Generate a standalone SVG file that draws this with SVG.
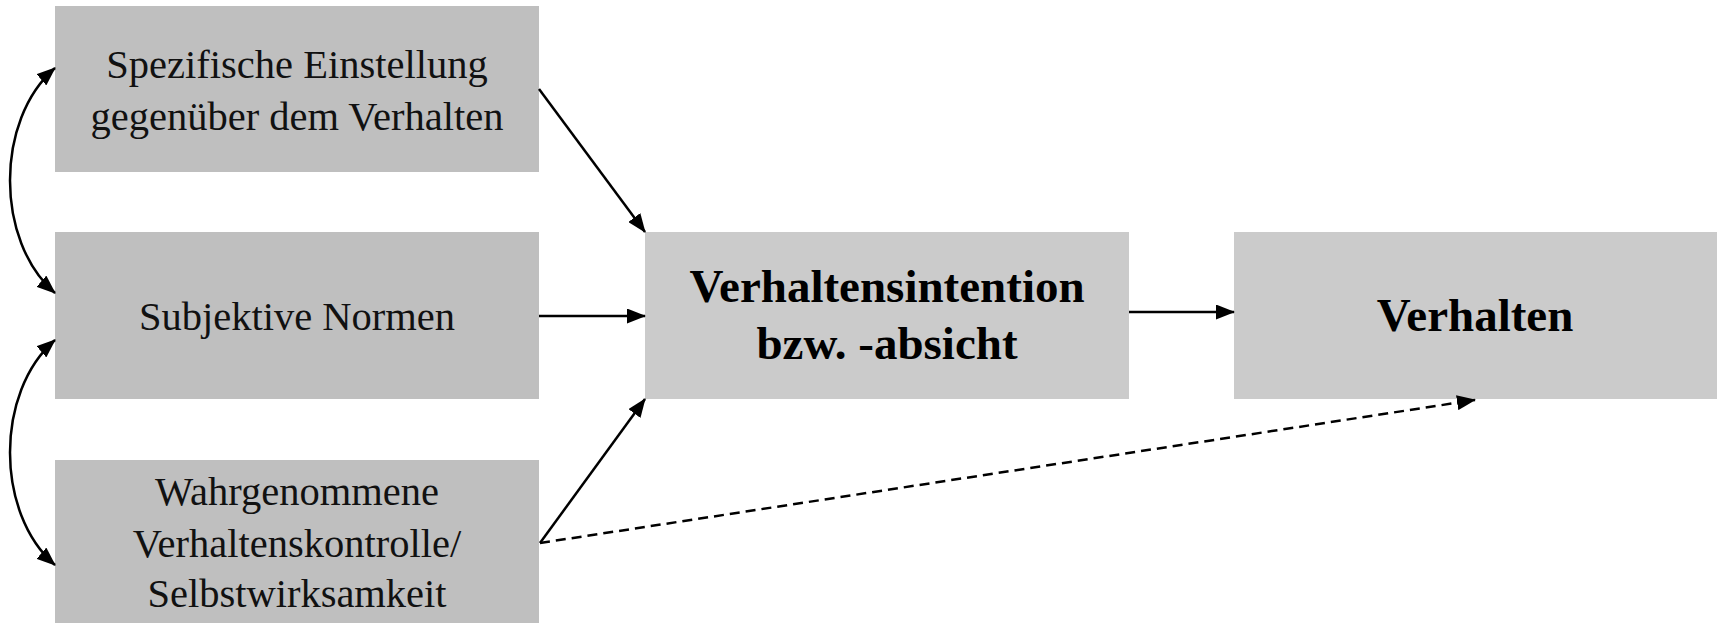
<svg xmlns="http://www.w3.org/2000/svg" width="1719" height="623" viewBox="0 0 1719 623">
  <style>
    .bg { fill: #ffffff; }
    .box-dark { fill: #bfbfbf; }
    .box-light { fill: #cbcbcb; }
    .t { font-family: "Liberation Serif", "Times New Roman", serif; font-size: 40.5px; fill: #111111; text-anchor: middle; }
    .tb { font-family: "Liberation Serif", "Times New Roman", serif; font-size: 47px; font-weight: bold; fill: #000000; text-anchor: middle; }
    .edge { fill: none; stroke: #000000; stroke-width: 2.5; marker-end: url(#arrow); }
    .dash { stroke-dasharray: 10 6; }
    .both { marker-start: url(#arrow); }
  </style>
  <defs>
    <marker id="arrow" viewBox="0 0 19 15" refX="18" refY="7.5" markerWidth="19" markerHeight="15" markerUnits="userSpaceOnUse" orient="auto-start-reverse">
      <path d="M0,0 L19,7.5 L0,15 z" fill="#000000"/>
    </marker>
  </defs>
  <rect class="bg" x="0" y="0" width="1719" height="623"/>

  <g id="node-einstellung">
    <rect class="box-dark" x="55" y="6" width="484" height="166"/>
    <text class="t" x="297" y="78">Spezifische Einstellung</text>
    <text class="t" x="297" y="130">gegenüber dem Verhalten</text>
  </g>
  <g id="node-normen">
    <rect class="box-dark" x="55" y="232" width="484" height="167"/>
    <text class="t" x="297" y="330">Subjektive Normen</text>
  </g>
  <g id="node-kontrolle">
    <rect class="box-dark" x="55" y="460" width="484" height="170"/>
    <text class="t" x="297" y="505">Wahrgenommene</text>
    <text class="t" x="297" y="557">Verhaltenskontrolle/</text>
    <text class="t" x="297" y="607">Selbstwirksamkeit</text>
  </g>
  <g id="node-intention">
    <rect class="box-light" x="645" y="232" width="484" height="167"/>
    <text class="tb" x="887" y="302">Verhaltensintention</text>
    <text class="tb" x="887" y="359">bzw. -absicht</text>
  </g>
  <g id="node-verhalten">
    <rect class="box-light" x="1234" y="232" width="483" height="167"/>
    <text class="tb" x="1475" y="331">Verhalten</text>
  </g>

  <g id="connectors">
    <path class="edge both" d="M55,68 C-5,120 -5,241 55,293"/>
    <path class="edge both" d="M55,340 C-5,392 -5,513 55,565"/>
    <path class="edge" d="M539,89 L645,232"/>
    <path class="edge" d="M539,316 L645,316"/>
    <path class="edge" d="M540,543 L645,399"/>
    <path class="edge" d="M1129,312 L1234,312"/>
    <path class="edge dash" d="M540,543 L1475,400"/>
  </g>
</svg>
